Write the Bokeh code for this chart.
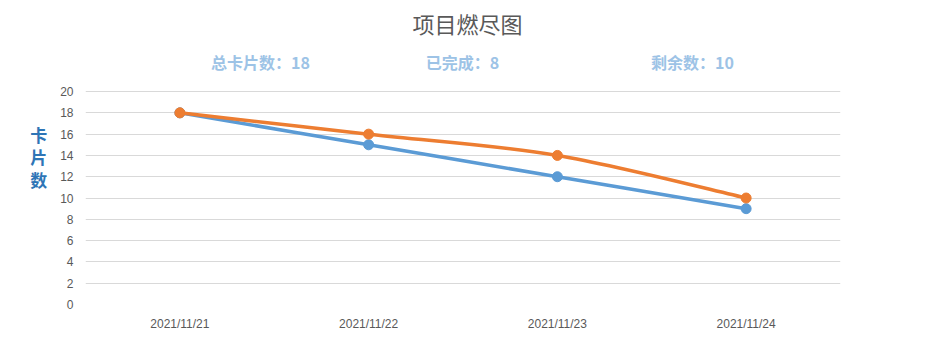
from bokeh.plotting import figure
from bokeh.models import Range1d, FixedTicker
from bokeh.core.properties import value
from bokeh.embed import file_html
from bokeh.resources import INLINE

dates = ["2021/11/21", "2021/11/22", "2021/11/23", "2021/11/24"]
ideal = [18, 15, 12, 9]
actual = [18, 16, 14, 10]
title_text = "项目燃尽图"
stats = ["总卡片数：18", "已完成：8", "剩余数：10"]
ylabel_text = "卡\n片\n数"

xs = [i + 0.5 for i in range(len(dates))]

p = figure(width=939, height=363, output_backend="svg", toolbar_location=None,
           x_range=Range1d(0, len(dates)), y_range=Range1d(0, 27.8),
           min_border_left=85, min_border_right=99, min_border_top=8, min_border_bottom=59)
p.outline_line_color = None
p.background_fill_color = "white"
p.border_fill_color = "white"

p.xaxis.ticker = FixedTicker(ticks=xs)
p.xaxis.major_label_overrides = {x: d for x, d in zip(xs, dates)}
p.yaxis.ticker = FixedTicker(ticks=list(range(0, 21, 2)))
for ax in (p.xaxis, p.yaxis):
    ax.axis_line_color = None
    ax.major_tick_line_color = None
    ax.minor_tick_line_color = None
    ax.major_tick_out = 0
    ax.major_tick_in = 0
    ax.minor_tick_out = 0
    ax.minor_tick_in = 0
    ax.major_label_text_font = "Liberation Sans Narrow, Liberation Sans"
    ax.major_label_text_font_size = "12px"
    ax.major_label_text_color = "#595959"
p.xaxis.major_label_standoff = 12
p.yaxis.major_label_standoff = 12
p.yaxis.axis_label = ylabel_text
p.yaxis.axis_label_orientation = "horizontal"
p.yaxis.axis_label_text_font = "Noto Sans CJK SC"
p.yaxis.axis_label_text_font_size = "17px"
p.yaxis.axis_label_text_font_style = "bold"
p.yaxis.axis_label_text_color = "#2E75B6"
p.yaxis.axis_label_text_line_height = 0.9
p.yaxis.axis_label_standoff = 10
p.xgrid.grid_line_color = None
p.ygrid.grid_line_color = "#d9d9d9"
p.ygrid.grid_line_width = 1


def smooth(xv, yv):
    n = len(xv)
    P = list(zip(xv, yv))
    x0, y0, x1, y1, cx0, cy0, cx1, cy1 = [], [], [], [], [], [], [], []
    for i in range(n - 1):
        pm = P[i - 1] if i > 0 else P[i]
        pa = P[i]
        pb = P[i + 1]
        pn = P[i + 2] if i + 2 < n else P[i + 1]
        x0.append(pa[0]); y0.append(pa[1])
        x1.append(pb[0]); y1.append(pb[1])
        cx0.append(pa[0] + (pb[0] - pm[0]) / 6); cy0.append(pa[1] + (pb[1] - pm[1]) / 6)
        cx1.append(pb[0] - (pn[0] - pa[0]) / 6); cy1.append(pb[1] - (pn[1] - pa[1]) / 6)
    return dict(x0=x0, y0=y0, x1=x1, y1=y1, cx0=cx0, cy0=cy0, cx1=cx1, cy1=cy1)


for series, col in ((ideal, "#5B9BD5"), (actual, "#ED7D31")):
    s = smooth(xs, series)
    p.bezier(x0=s["x0"], y0=s["y0"], x1=s["x1"], y1=s["y1"],
             cx0=s["cx0"], cy0=s["cy0"], cx1=s["cx1"], cy1=s["cy1"],
             line_color=col, line_width=3.5)
    p.scatter(xs, series, size=10, fill_color=col, line_color=col)

# title inside the (extended) frame
p.text(x=[2.024], y=[26.4], text=[title_text], text_align="center", text_baseline="middle",
       text_font=value("Noto Sans CJK SC"), text_font_size="22px", text_color="#595959")

# stats row
p.text(x=[0.927, 1.997, 3.216], y=[22.75] * 3, text=stats, text_align="center",
       text_baseline="middle", text_font=value("Noto Sans CJK SC"), text_font_size="16px",
       text_font_style="bold", text_color="#9DC3E6")

open("out.html", "w").write(file_html(p, INLINE))
